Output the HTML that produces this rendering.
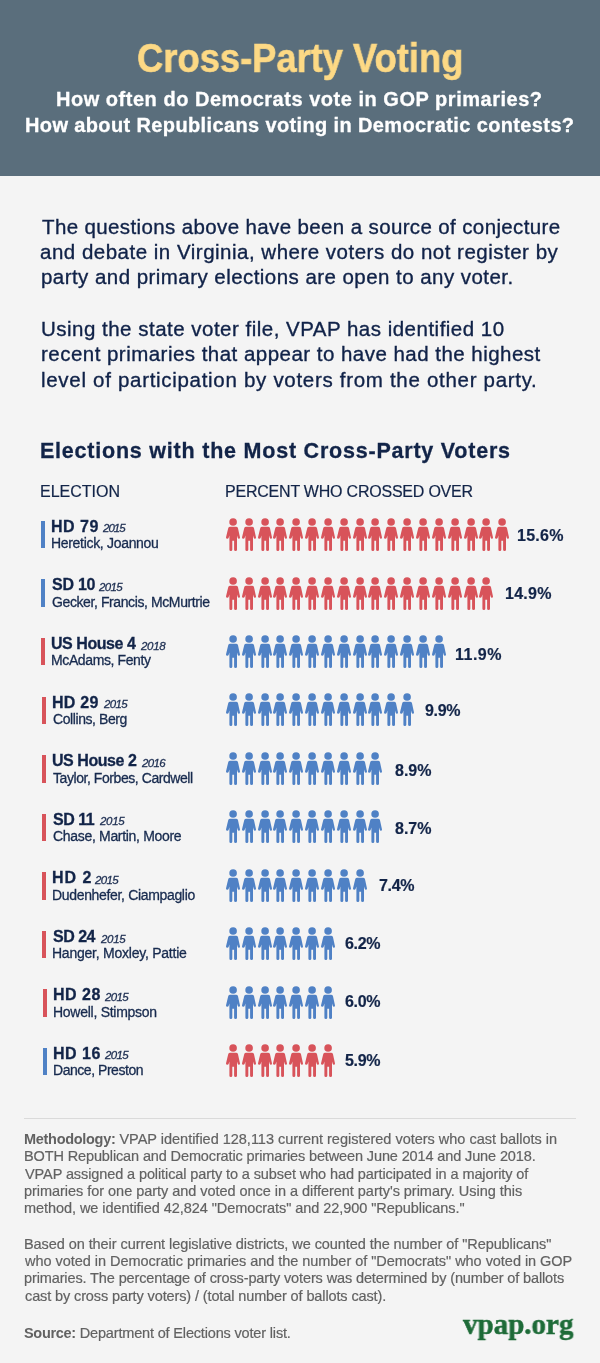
<!DOCTYPE html>
<html><head><meta charset="utf-8"><title>Cross-Party Voting</title>
<style>
html,body{margin:0;padding:0;}
body{width:600px;height:1363px;position:relative;overflow:hidden;background:#f4f4f4;font-family:"Liberation Sans", sans-serif;}
.t{position:absolute;white-space:nowrap;transform-origin:0 0;will-change:transform;}
.t b{font-weight:700;}
.hdr{position:absolute;left:0;top:0;width:600px;height:176px;background:#5a6e7c;}
.bar{position:absolute;width:4px;height:27.5px;}
.ic{position:absolute;width:14px;height:33px;overflow:visible;}
.rule{position:absolute;left:24px;width:552px;top:1118px;height:1px;background:#dadada;}
</style></head><body>
<svg width="0" height="0" style="position:absolute">
<defs>
<symbol id="p" viewBox="0 0 140 330">
<circle cx="71" cy="40" r="38"/>
<path d="M42 88 L100 88 Q116 88 120 102 L139 190 Q143 208 129 208 Q120 208 117 198 L110 176 L110 318 Q110 330 96 330 Q81 330 81 318 L81 228 L63 228 L63 318 Q63 330 48 330 Q34 330 34 318 L34 176 L27 198 Q24 208 13 208 Q-3 208 1 190 L22 102 Q26 88 42 88 Z"/>
</symbol>
</defs></svg>
<div class="hdr"></div>

<div class="bar" style="left:41px;top:520.5px;background:#4f81c5"></div>
<svg class="ic" style="left:225.80px;top:518.20px;fill:#d8535a"><use href="#p"/></svg>
<svg class="ic" style="left:241.65px;top:518.20px;fill:#d8535a"><use href="#p"/></svg>
<svg class="ic" style="left:257.50px;top:518.20px;fill:#d8535a"><use href="#p"/></svg>
<svg class="ic" style="left:273.35px;top:518.20px;fill:#d8535a"><use href="#p"/></svg>
<svg class="ic" style="left:289.20px;top:518.20px;fill:#d8535a"><use href="#p"/></svg>
<svg class="ic" style="left:305.05px;top:518.20px;fill:#d8535a"><use href="#p"/></svg>
<svg class="ic" style="left:320.90px;top:518.20px;fill:#d8535a"><use href="#p"/></svg>
<svg class="ic" style="left:336.75px;top:518.20px;fill:#d8535a"><use href="#p"/></svg>
<svg class="ic" style="left:352.60px;top:518.20px;fill:#d8535a"><use href="#p"/></svg>
<svg class="ic" style="left:368.45px;top:518.20px;fill:#d8535a"><use href="#p"/></svg>
<svg class="ic" style="left:384.30px;top:518.20px;fill:#d8535a"><use href="#p"/></svg>
<svg class="ic" style="left:400.15px;top:518.20px;fill:#d8535a"><use href="#p"/></svg>
<svg class="ic" style="left:416.00px;top:518.20px;fill:#d8535a"><use href="#p"/></svg>
<svg class="ic" style="left:431.85px;top:518.20px;fill:#d8535a"><use href="#p"/></svg>
<svg class="ic" style="left:447.70px;top:518.20px;fill:#d8535a"><use href="#p"/></svg>
<svg class="ic" style="left:463.55px;top:518.20px;fill:#d8535a"><use href="#p"/></svg>
<svg class="ic" style="left:479.40px;top:518.20px;fill:#d8535a"><use href="#p"/></svg>
<svg class="ic" style="left:495.25px;top:518.20px;fill:#d8535a"><use href="#p"/></svg>
<div class="bar" style="left:41px;top:579px;background:#4f81c5"></div>
<svg class="ic" style="left:225.80px;top:576.62px;fill:#d8535a"><use href="#p"/></svg>
<svg class="ic" style="left:241.65px;top:576.62px;fill:#d8535a"><use href="#p"/></svg>
<svg class="ic" style="left:257.50px;top:576.62px;fill:#d8535a"><use href="#p"/></svg>
<svg class="ic" style="left:273.35px;top:576.62px;fill:#d8535a"><use href="#p"/></svg>
<svg class="ic" style="left:289.20px;top:576.62px;fill:#d8535a"><use href="#p"/></svg>
<svg class="ic" style="left:305.05px;top:576.62px;fill:#d8535a"><use href="#p"/></svg>
<svg class="ic" style="left:320.90px;top:576.62px;fill:#d8535a"><use href="#p"/></svg>
<svg class="ic" style="left:336.75px;top:576.62px;fill:#d8535a"><use href="#p"/></svg>
<svg class="ic" style="left:352.60px;top:576.62px;fill:#d8535a"><use href="#p"/></svg>
<svg class="ic" style="left:368.45px;top:576.62px;fill:#d8535a"><use href="#p"/></svg>
<svg class="ic" style="left:384.30px;top:576.62px;fill:#d8535a"><use href="#p"/></svg>
<svg class="ic" style="left:400.15px;top:576.62px;fill:#d8535a"><use href="#p"/></svg>
<svg class="ic" style="left:416.00px;top:576.62px;fill:#d8535a"><use href="#p"/></svg>
<svg class="ic" style="left:431.85px;top:576.62px;fill:#d8535a"><use href="#p"/></svg>
<svg class="ic" style="left:447.70px;top:576.62px;fill:#d8535a"><use href="#p"/></svg>
<svg class="ic" style="left:463.55px;top:576.62px;fill:#d8535a"><use href="#p"/></svg>
<svg class="ic" style="left:479.40px;top:576.62px;fill:#d8535a"><use href="#p"/></svg>
<div class="bar" style="left:41px;top:637.9px;background:#d8535a"></div>
<svg class="ic" style="left:225.80px;top:635.04px;fill:#4f81c5"><use href="#p"/></svg>
<svg class="ic" style="left:241.65px;top:635.04px;fill:#4f81c5"><use href="#p"/></svg>
<svg class="ic" style="left:257.50px;top:635.04px;fill:#4f81c5"><use href="#p"/></svg>
<svg class="ic" style="left:273.35px;top:635.04px;fill:#4f81c5"><use href="#p"/></svg>
<svg class="ic" style="left:289.20px;top:635.04px;fill:#4f81c5"><use href="#p"/></svg>
<svg class="ic" style="left:305.05px;top:635.04px;fill:#4f81c5"><use href="#p"/></svg>
<svg class="ic" style="left:320.90px;top:635.04px;fill:#4f81c5"><use href="#p"/></svg>
<svg class="ic" style="left:336.75px;top:635.04px;fill:#4f81c5"><use href="#p"/></svg>
<svg class="ic" style="left:352.60px;top:635.04px;fill:#4f81c5"><use href="#p"/></svg>
<svg class="ic" style="left:368.45px;top:635.04px;fill:#4f81c5"><use href="#p"/></svg>
<svg class="ic" style="left:384.30px;top:635.04px;fill:#4f81c5"><use href="#p"/></svg>
<svg class="ic" style="left:400.15px;top:635.04px;fill:#4f81c5"><use href="#p"/></svg>
<svg class="ic" style="left:416.00px;top:635.04px;fill:#4f81c5"><use href="#p"/></svg>
<svg class="ic" style="left:431.85px;top:635.04px;fill:#4f81c5"><use href="#p"/></svg>
<div class="bar" style="left:41.7px;top:696.5px;background:#d8535a"></div>
<svg class="ic" style="left:225.80px;top:693.46px;fill:#4f81c5"><use href="#p"/></svg>
<svg class="ic" style="left:241.65px;top:693.46px;fill:#4f81c5"><use href="#p"/></svg>
<svg class="ic" style="left:257.50px;top:693.46px;fill:#4f81c5"><use href="#p"/></svg>
<svg class="ic" style="left:273.35px;top:693.46px;fill:#4f81c5"><use href="#p"/></svg>
<svg class="ic" style="left:289.20px;top:693.46px;fill:#4f81c5"><use href="#p"/></svg>
<svg class="ic" style="left:305.05px;top:693.46px;fill:#4f81c5"><use href="#p"/></svg>
<svg class="ic" style="left:320.90px;top:693.46px;fill:#4f81c5"><use href="#p"/></svg>
<svg class="ic" style="left:336.75px;top:693.46px;fill:#4f81c5"><use href="#p"/></svg>
<svg class="ic" style="left:352.60px;top:693.46px;fill:#4f81c5"><use href="#p"/></svg>
<svg class="ic" style="left:368.45px;top:693.46px;fill:#4f81c5"><use href="#p"/></svg>
<svg class="ic" style="left:384.30px;top:693.46px;fill:#4f81c5"><use href="#p"/></svg>
<svg class="ic" style="left:400.15px;top:693.46px;fill:#4f81c5"><use href="#p"/></svg>
<div class="bar" style="left:42px;top:755px;background:#d8535a"></div>
<svg class="ic" style="left:225.80px;top:751.88px;fill:#4f81c5"><use href="#p"/></svg>
<svg class="ic" style="left:241.65px;top:751.88px;fill:#4f81c5"><use href="#p"/></svg>
<svg class="ic" style="left:257.50px;top:751.88px;fill:#4f81c5"><use href="#p"/></svg>
<svg class="ic" style="left:273.35px;top:751.88px;fill:#4f81c5"><use href="#p"/></svg>
<svg class="ic" style="left:289.20px;top:751.88px;fill:#4f81c5"><use href="#p"/></svg>
<svg class="ic" style="left:305.05px;top:751.88px;fill:#4f81c5"><use href="#p"/></svg>
<svg class="ic" style="left:320.90px;top:751.88px;fill:#4f81c5"><use href="#p"/></svg>
<svg class="ic" style="left:336.75px;top:751.88px;fill:#4f81c5"><use href="#p"/></svg>
<svg class="ic" style="left:352.60px;top:751.88px;fill:#4f81c5"><use href="#p"/></svg>
<svg class="ic" style="left:368.45px;top:751.88px;fill:#4f81c5"><use href="#p"/></svg>
<div class="bar" style="left:42px;top:813.7px;background:#d8535a"></div>
<svg class="ic" style="left:225.80px;top:810.30px;fill:#4f81c5"><use href="#p"/></svg>
<svg class="ic" style="left:241.65px;top:810.30px;fill:#4f81c5"><use href="#p"/></svg>
<svg class="ic" style="left:257.50px;top:810.30px;fill:#4f81c5"><use href="#p"/></svg>
<svg class="ic" style="left:273.35px;top:810.30px;fill:#4f81c5"><use href="#p"/></svg>
<svg class="ic" style="left:289.20px;top:810.30px;fill:#4f81c5"><use href="#p"/></svg>
<svg class="ic" style="left:305.05px;top:810.30px;fill:#4f81c5"><use href="#p"/></svg>
<svg class="ic" style="left:320.90px;top:810.30px;fill:#4f81c5"><use href="#p"/></svg>
<svg class="ic" style="left:336.75px;top:810.30px;fill:#4f81c5"><use href="#p"/></svg>
<svg class="ic" style="left:352.60px;top:810.30px;fill:#4f81c5"><use href="#p"/></svg>
<svg class="ic" style="left:368.45px;top:810.30px;fill:#4f81c5"><use href="#p"/></svg>
<div class="bar" style="left:42px;top:872.1px;background:#d8535a"></div>
<svg class="ic" style="left:225.80px;top:868.72px;fill:#4f81c5"><use href="#p"/></svg>
<svg class="ic" style="left:241.65px;top:868.72px;fill:#4f81c5"><use href="#p"/></svg>
<svg class="ic" style="left:257.50px;top:868.72px;fill:#4f81c5"><use href="#p"/></svg>
<svg class="ic" style="left:273.35px;top:868.72px;fill:#4f81c5"><use href="#p"/></svg>
<svg class="ic" style="left:289.20px;top:868.72px;fill:#4f81c5"><use href="#p"/></svg>
<svg class="ic" style="left:305.05px;top:868.72px;fill:#4f81c5"><use href="#p"/></svg>
<svg class="ic" style="left:320.90px;top:868.72px;fill:#4f81c5"><use href="#p"/></svg>
<svg class="ic" style="left:336.75px;top:868.72px;fill:#4f81c5"><use href="#p"/></svg>
<svg class="ic" style="left:352.60px;top:868.72px;fill:#4f81c5"><use href="#p"/></svg>
<div class="bar" style="left:42.2px;top:930.8px;background:#d8535a"></div>
<svg class="ic" style="left:225.80px;top:927.14px;fill:#4f81c5"><use href="#p"/></svg>
<svg class="ic" style="left:241.65px;top:927.14px;fill:#4f81c5"><use href="#p"/></svg>
<svg class="ic" style="left:257.50px;top:927.14px;fill:#4f81c5"><use href="#p"/></svg>
<svg class="ic" style="left:273.35px;top:927.14px;fill:#4f81c5"><use href="#p"/></svg>
<svg class="ic" style="left:289.20px;top:927.14px;fill:#4f81c5"><use href="#p"/></svg>
<svg class="ic" style="left:305.05px;top:927.14px;fill:#4f81c5"><use href="#p"/></svg>
<svg class="ic" style="left:320.90px;top:927.14px;fill:#4f81c5"><use href="#p"/></svg>
<div class="bar" style="left:42.6px;top:989.1px;background:#d8535a"></div>
<svg class="ic" style="left:225.80px;top:985.56px;fill:#4f81c5"><use href="#p"/></svg>
<svg class="ic" style="left:241.65px;top:985.56px;fill:#4f81c5"><use href="#p"/></svg>
<svg class="ic" style="left:257.50px;top:985.56px;fill:#4f81c5"><use href="#p"/></svg>
<svg class="ic" style="left:273.35px;top:985.56px;fill:#4f81c5"><use href="#p"/></svg>
<svg class="ic" style="left:289.20px;top:985.56px;fill:#4f81c5"><use href="#p"/></svg>
<svg class="ic" style="left:305.05px;top:985.56px;fill:#4f81c5"><use href="#p"/></svg>
<svg class="ic" style="left:320.90px;top:985.56px;fill:#4f81c5"><use href="#p"/></svg>
<div class="bar" style="left:43px;top:1047.75px;background:#4f81c5"></div>
<svg class="ic" style="left:225.80px;top:1043.98px;fill:#d8535a"><use href="#p"/></svg>
<svg class="ic" style="left:241.65px;top:1043.98px;fill:#d8535a"><use href="#p"/></svg>
<svg class="ic" style="left:257.50px;top:1043.98px;fill:#d8535a"><use href="#p"/></svg>
<svg class="ic" style="left:273.35px;top:1043.98px;fill:#d8535a"><use href="#p"/></svg>
<svg class="ic" style="left:289.20px;top:1043.98px;fill:#d8535a"><use href="#p"/></svg>
<svg class="ic" style="left:305.05px;top:1043.98px;fill:#d8535a"><use href="#p"/></svg>
<svg class="ic" style="left:320.90px;top:1043.98px;fill:#d8535a"><use href="#p"/></svg>
<div class="rule"></div>
<div class="t" id="t0" style="left:137.23px;top:34.13px;font-size:40px;line-height:48px;font-weight:700;color:#fdd985;transform:scaleX(0.9082);-webkit-text-stroke:0.6px #fdd985;">Cross-Party Voting</div>
<div class="t" id="t1" style="left:56.00px;top:87.37px;font-size:20px;line-height:24px;font-weight:700;color:#ffffff;letter-spacing:0.523px;-webkit-text-stroke:0.3px #ffffff;">How often do Democrats vote in GOP primaries?</div>
<div class="t" id="t2" style="left:25.00px;top:112.77px;font-size:20px;line-height:24px;font-weight:700;color:#ffffff;letter-spacing:0.373px;-webkit-text-stroke:0.3px #ffffff;">How about Republicans voting in Democratic contests?</div>
<div class="t" id="t3" style="left:41.50px;top:213.89px;font-size:20.5px;line-height:25px;color:#102248;letter-spacing:0.373px;-webkit-text-stroke:0.35px #102248;">The questions above have been a source of conjecture</div>
<div class="t" id="t4" style="left:40.30px;top:239.39px;font-size:20.5px;line-height:25px;color:#102248;letter-spacing:0.500px;-webkit-text-stroke:0.35px #102248;">and debate in Virginia, where voters do not register by</div>
<div class="t" id="t5" style="left:41.00px;top:264.39px;font-size:20.5px;line-height:25px;color:#102248;letter-spacing:0.449px;-webkit-text-stroke:0.35px #102248;">party and primary elections are open to any voter.</div>
<div class="t" id="t6" style="left:41.00px;top:316.19px;font-size:20.5px;line-height:25px;color:#102248;letter-spacing:0.490px;-webkit-text-stroke:0.35px #102248;">Using the state voter file, VPAP has identified 10</div>
<div class="t" id="t7" style="left:41.00px;top:341.39px;font-size:20.5px;line-height:25px;color:#102248;letter-spacing:0.471px;-webkit-text-stroke:0.35px #102248;">recent primaries that appear to have had the highest</div>
<div class="t" id="t8" style="left:41.00px;top:366.89px;font-size:20.5px;line-height:25px;color:#102248;letter-spacing:0.698px;-webkit-text-stroke:0.35px #102248;">level of participation by voters from the other party.</div>
<div class="t" id="t9" style="left:40.00px;top:437.55px;font-size:21.5px;line-height:26px;font-weight:700;color:#122448;letter-spacing:0.780px;-webkit-text-stroke:0.3px #122448;">Elections with the Most Cross-Party Voters</div>
<div class="t" id="t10" style="left:39.50px;top:482.25px;font-size:16px;line-height:19px;color:#122448;letter-spacing:-0.000px;-webkit-text-stroke:0.2px #122448;">ELECTION</div>
<div class="t" id="t11" style="left:225.00px;top:482.15px;font-size:16px;line-height:19px;color:#122448;letter-spacing:-0.217px;-webkit-text-stroke:0.2px #122448;">PERCENT WHO CROSSED OVER</div>
<div class="t" id="t12" style="left:51.00px;top:516.65px;font-size:16px;line-height:19px;font-weight:700;color:#122448;letter-spacing:0.500px;-webkit-text-stroke:0.3px #122448;">HD 79</div>
<div class="t" id="t13" style="left:102.80px;top:521.21px;font-size:11.5px;line-height:14px;color:#1e2f52;letter-spacing:-1.000px;font-style:italic;-webkit-text-stroke:0.3px #1e2f52;">2015</div>
<div class="t" id="t14" style="left:51.00px;top:535.05px;font-size:14px;line-height:17px;color:#172a4e;letter-spacing:-0.312px;-webkit-text-stroke:0.3px #172a4e;">Heretick, Joannou</div>
<div class="t" id="t15" style="left:517.00px;top:525.75px;font-size:16px;line-height:19px;font-weight:700;color:#122448;letter-spacing:0.250px;-webkit-text-stroke:0.2px #122448;">15.6%</div>
<div class="t" id="t16" style="left:52.00px;top:575.15px;font-size:16px;line-height:19px;font-weight:700;color:#122448;letter-spacing:-0.250px;-webkit-text-stroke:0.3px #122448;">SD 10</div>
<div class="t" id="t17" style="left:99.40px;top:579.71px;font-size:11.5px;line-height:14px;color:#1e2f52;letter-spacing:-0.667px;font-style:italic;-webkit-text-stroke:0.3px #1e2f52;">2015</div>
<div class="t" id="t18" style="left:52.00px;top:593.55px;font-size:14px;line-height:17px;color:#172a4e;letter-spacing:-0.400px;-webkit-text-stroke:0.3px #172a4e;">Gecker, Francis, McMurtrie</div>
<div class="t" id="t19" style="left:504.80px;top:584.45px;font-size:16px;line-height:19px;font-weight:700;color:#122448;letter-spacing:0.250px;-webkit-text-stroke:0.2px #122448;">14.9%</div>
<div class="t" id="t20" style="left:51.00px;top:634.05px;font-size:16px;line-height:19px;font-weight:700;color:#122448;letter-spacing:-0.444px;-webkit-text-stroke:0.3px #122448;">US House 4</div>
<div class="t" id="t21" style="left:141.00px;top:638.61px;font-size:11.5px;line-height:14px;color:#1e2f52;letter-spacing:-0.333px;font-style:italic;-webkit-text-stroke:0.3px #1e2f52;">2018</div>
<div class="t" id="t22" style="left:51.00px;top:652.45px;font-size:14px;line-height:17px;color:#172a4e;letter-spacing:-0.385px;-webkit-text-stroke:0.3px #172a4e;">McAdams, Fenty</div>
<div class="t" id="t23" style="left:455.30px;top:644.65px;font-size:16px;line-height:19px;font-weight:700;color:#122448;letter-spacing:0.500px;-webkit-text-stroke:0.2px #122448;">11.9%</div>
<div class="t" id="t24" style="left:51.70px;top:692.65px;font-size:16px;line-height:19px;font-weight:700;color:#122448;letter-spacing:0.250px;-webkit-text-stroke:0.3px #122448;">HD 29</div>
<div class="t" id="t25" style="left:103.60px;top:697.21px;font-size:11.5px;line-height:14px;color:#1e2f52;letter-spacing:-0.667px;font-style:italic;-webkit-text-stroke:0.3px #1e2f52;">2015</div>
<div class="t" id="t26" style="left:52.70px;top:711.05px;font-size:14px;line-height:17px;color:#172a4e;letter-spacing:-0.417px;-webkit-text-stroke:0.3px #172a4e;">Collins, Berg</div>
<div class="t" id="t27" style="left:424.70px;top:700.75px;font-size:16px;line-height:19px;font-weight:700;color:#122448;letter-spacing:-0.333px;-webkit-text-stroke:0.2px #122448;">9.9%</div>
<div class="t" id="t28" style="left:52.00px;top:751.15px;font-size:16px;line-height:19px;font-weight:700;color:#122448;letter-spacing:-0.444px;-webkit-text-stroke:0.3px #122448;">US House 2</div>
<div class="t" id="t29" style="left:141.70px;top:755.71px;font-size:11.5px;line-height:14px;color:#1e2f52;letter-spacing:-0.667px;font-style:italic;-webkit-text-stroke:0.3px #1e2f52;">2016</div>
<div class="t" id="t30" style="left:53.00px;top:769.55px;font-size:14px;line-height:17px;color:#172a4e;letter-spacing:-0.435px;-webkit-text-stroke:0.3px #172a4e;">Taylor, Forbes, Cardwell</div>
<div class="t" id="t31" style="left:395.00px;top:761.15px;font-size:16px;line-height:19px;font-weight:700;color:#122448;letter-spacing:-0.000px;-webkit-text-stroke:0.2px #122448;">8.9%</div>
<div class="t" id="t32" style="left:53.00px;top:809.85px;font-size:16px;line-height:19px;font-weight:700;color:#122448;letter-spacing:-0.500px;-webkit-text-stroke:0.3px #122448;">SD 11</div>
<div class="t" id="t33" style="left:100.00px;top:814.41px;font-size:11.5px;line-height:14px;color:#1e2f52;letter-spacing:-0.333px;font-style:italic;-webkit-text-stroke:0.3px #1e2f52;">2015</div>
<div class="t" id="t34" style="left:53.00px;top:828.25px;font-size:14px;line-height:17px;color:#172a4e;letter-spacing:-0.316px;-webkit-text-stroke:0.3px #172a4e;">Chase, Martin, Moore</div>
<div class="t" id="t35" style="left:395.00px;top:819.25px;font-size:16px;line-height:19px;font-weight:700;color:#122448;-webkit-text-stroke:0.2px #122448;">8.7%</div>
<div class="t" id="t36" style="left:52.00px;top:868.25px;font-size:16px;line-height:19px;font-weight:700;color:#122448;letter-spacing:1.000px;-webkit-text-stroke:0.3px #122448;">HD 2</div>
<div class="t" id="t37" style="left:94.70px;top:872.81px;font-size:11.5px;line-height:14px;color:#1e2f52;letter-spacing:-0.667px;font-style:italic;-webkit-text-stroke:0.3px #1e2f52;">2015</div>
<div class="t" id="t38" style="left:52.00px;top:886.65px;font-size:14px;line-height:17px;color:#172a4e;letter-spacing:-0.333px;-webkit-text-stroke:0.3px #172a4e;">Dudenhefer, Ciampaglio</div>
<div class="t" id="t39" style="left:378.70px;top:875.95px;font-size:16px;line-height:19px;font-weight:700;color:#122448;letter-spacing:-0.333px;-webkit-text-stroke:0.2px #122448;">7.4%</div>
<div class="t" id="t40" style="left:53.20px;top:926.95px;font-size:16px;line-height:19px;font-weight:700;color:#122448;letter-spacing:-0.500px;-webkit-text-stroke:0.3px #122448;">SD 24</div>
<div class="t" id="t41" style="left:100.50px;top:931.51px;font-size:11.5px;line-height:14px;color:#1e2f52;letter-spacing:-0.333px;font-style:italic;-webkit-text-stroke:0.3px #1e2f52;">2015</div>
<div class="t" id="t42" style="left:52.20px;top:945.35px;font-size:14px;line-height:17px;color:#172a4e;letter-spacing:-0.238px;-webkit-text-stroke:0.3px #172a4e;">Hanger, Moxley, Pattie</div>
<div class="t" id="t43" style="left:345.00px;top:934.15px;font-size:16px;line-height:19px;font-weight:700;color:#122448;letter-spacing:-0.333px;-webkit-text-stroke:0.2px #122448;">6.2%</div>
<div class="t" id="t44" style="left:52.60px;top:985.25px;font-size:16px;line-height:19px;font-weight:700;color:#122448;letter-spacing:0.500px;-webkit-text-stroke:0.3px #122448;">HD 28</div>
<div class="t" id="t45" style="left:104.70px;top:989.81px;font-size:11.5px;line-height:14px;color:#1e2f52;letter-spacing:-0.667px;font-style:italic;-webkit-text-stroke:0.3px #1e2f52;">2015</div>
<div class="t" id="t46" style="left:52.60px;top:1003.65px;font-size:14px;line-height:17px;color:#172a4e;letter-spacing:-0.267px;-webkit-text-stroke:0.3px #172a4e;">Howell, Stimpson</div>
<div class="t" id="t47" style="left:345.00px;top:992.45px;font-size:16px;line-height:19px;font-weight:700;color:#122448;letter-spacing:-0.333px;-webkit-text-stroke:0.2px #122448;">6.0%</div>
<div class="t" id="t48" style="left:53.00px;top:1043.90px;font-size:16px;line-height:19px;font-weight:700;color:#122448;letter-spacing:0.500px;-webkit-text-stroke:0.3px #122448;">HD 16</div>
<div class="t" id="t49" style="left:105.00px;top:1048.46px;font-size:11.5px;line-height:14px;color:#1e2f52;letter-spacing:-0.667px;font-style:italic;-webkit-text-stroke:0.3px #1e2f52;">2015</div>
<div class="t" id="t50" style="left:53.00px;top:1062.30px;font-size:14px;line-height:17px;color:#172a4e;letter-spacing:-0.462px;-webkit-text-stroke:0.3px #172a4e;">Dance, Preston</div>
<div class="t" id="t51" style="left:345.30px;top:1050.95px;font-size:16px;line-height:19px;font-weight:700;color:#122448;letter-spacing:-0.333px;-webkit-text-stroke:0.2px #122448;">5.9%</div>
<div class="t" id="t52" style="left:24.00px;top:1130.97px;font-size:14.5px;line-height:17px;color:#626262;letter-spacing:-0.012px;-webkit-text-stroke:0.2px #626262;"><b style="letter-spacing:-0.3px;-webkit-text-stroke:0">Methodology:</b> VPAP identified 128,113 current registered voters who cast ballots in</div>
<div class="t" id="t53" style="left:24.00px;top:1148.27px;font-size:14.5px;line-height:17px;color:#626262;letter-spacing:-0.125px;-webkit-text-stroke:0.2px #626262;">BOTH Republican and Democratic primaries between June 2014 and June 2018.</div>
<div class="t" id="t54" style="left:25.00px;top:1165.67px;font-size:14.5px;line-height:17px;color:#626262;letter-spacing:-0.100px;-webkit-text-stroke:0.2px #626262;">VPAP assigned a political party to a subset who had participated in a majority of</div>
<div class="t" id="t55" style="left:24.00px;top:1182.97px;font-size:14.5px;line-height:17px;color:#626262;letter-spacing:-0.037px;-webkit-text-stroke:0.2px #626262;">primaries for one party and voted once in a different party's primary. Using this</div>
<div class="t" id="t56" style="left:24.00px;top:1200.27px;font-size:14.5px;line-height:17px;color:#626262;letter-spacing:-0.062px;-webkit-text-stroke:0.2px #626262;">method, we identified 42,824 "Democrats" and 22,900 "Republicans."</div>
<div class="t" id="t57" style="left:24.00px;top:1235.77px;font-size:14.5px;line-height:17px;color:#626262;letter-spacing:-0.072px;-webkit-text-stroke:0.2px #626262;">Based on their current legislative districts, we counted the number of "Republicans"</div>
<div class="t" id="t58" style="left:25.00px;top:1253.17px;font-size:14.5px;line-height:17px;color:#626262;letter-spacing:-0.038px;-webkit-text-stroke:0.2px #626262;">who voted in Democratic primaries and the number of "Democrats" who voted in GOP</div>
<div class="t" id="t59" style="left:24.00px;top:1270.47px;font-size:14.5px;line-height:17px;color:#626262;letter-spacing:-0.120px;-webkit-text-stroke:0.2px #626262;">primaries. The percentage of cross-party voters was determined by (number of ballots</div>
<div class="t" id="t60" style="left:25.00px;top:1288.17px;font-size:14.5px;line-height:17px;color:#626262;letter-spacing:-0.117px;-webkit-text-stroke:0.2px #626262;">cast by cross party voters) / (total number of ballots cast).</div>
<div class="t" id="t61" style="left:24.00px;top:1324.77px;font-size:14.5px;line-height:17px;color:#626262;letter-spacing:-0.167px;-webkit-text-stroke:0.2px #626262;"><b style="letter-spacing:-0.3px;-webkit-text-stroke:0">Source:</b> Department of Elections voter list.</div>
<div class="t" id="t62" style="left:463.00px;top:1305.90px;font-size:30px;line-height:36px;font-weight:700;color:#1e6b38;transform:scaleX(0.9672);font-family:'Liberation Serif', serif;-webkit-text-stroke:0.5px #1e6b38;">vpap.org</div>
</body></html>
